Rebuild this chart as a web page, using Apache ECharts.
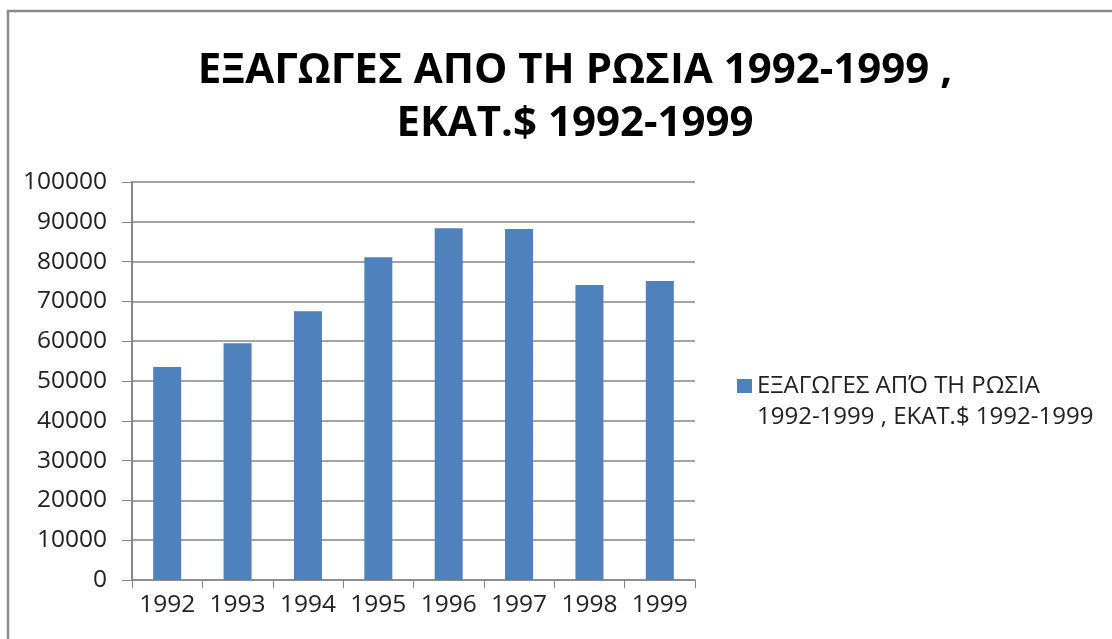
<!DOCTYPE html>
<html>
<head>
<meta charset="utf-8">
<script src="https://cdn.jsdelivr.net/npm/echarts@6/dist/echarts.min.js"></script>
<style>
  html, body { margin: 0; padding: 0; background: #fff; }
  #chart { width: 1112px; height: 639px; }
</style>
</head>
<body>
<div id="chart"></div>
<script>
const years = ['1992', '1993', '1994', '1995', '1996', '1997', '1998', '1999']
const exportsMln = [53500, 59500, 67500, 81100, 88400, 88200, 74100, 75100]
const seriesName = 'ΕΞΑΓΩΓΕΣ ΑΠΌ ΤΗ ΡΩΣΙΑ\n1992-1999 , ΕΚΑΤ.$ 1992-1999'
const titleText = 'ΕΞΑΓΩΓΕΣ ΑΠΟ ΤΗ ΡΩΣΙΑ 1992-1999 ,\nΕΚΑΤ.$ 1992-1999'

const chart = echarts.init(document.getElementById('chart'))

const axisGray = '#868686'

chart.setOption({
  backgroundColor: '#fff',
  animation: false,
  title: {
    text: titleText,
    left: 570,
    textAlign: 'center',
    top: 40,
    textStyle: {
      fontFamily: '"Open Sans", sans-serif',
      fontWeight: 'bold',
      fontSize: 42,
      lineHeight: 53,
      color: '#000'
    }
  },
  legend: {
    left: 732,
    top: 366,
    itemWidth: 15,
    itemHeight: 62,
    // square sits at the top so it lines up with the first text line
    icon: 'path://M0,8L15,8L15,22L0,22Z M0,0L0,62',
    textStyle: {
      fontFamily: '"Open Sans", sans-serif',
      fontSize: 24,
      lineHeight: 31,
      color: '#222'
    }
  },
  grid: {
    left: 132,
    right: 417,
    top: 182,
    bottom: 59
  },
  xAxis: {
    type: 'category',
    data: years,
    axisLine: { lineStyle: { color: axisGray, width: 1.5 } },
    axisTick: { show: true, length: 8, lineStyle: { color: axisGray } },
    axisLabel: {
      interval: 0,
      margin: 13,
      fontFamily: '"Open Sans", sans-serif',
      fontSize: 24.5,
      color: '#222'
    }
  },
  yAxis: {
    type: 'value',
    min: 0,
    max: 100000,
    interval: 10000,
    axisLine: { show: true, lineStyle: { color: axisGray, width: 2 } },
    axisTick: { show: true, length: 10, lineStyle: { color: axisGray } },
    splitLine: { lineStyle: { color: axisGray, width: 1.5 } },
    axisLabel: {
      margin: 25,
      formatter: v => String(v),
      fontFamily: '"Open Sans", sans-serif',
      fontSize: 24.5,
      color: '#222'
    }
  },
  series: [
    {
      name: seriesName,
      type: 'bar',
      data: exportsMln,
      barWidth: 28,
      itemStyle: { color: '#4F81BD' }
    }
  ],
  graphic: [
    {
      type: 'rect',
      silent: true,
      shape: { x: 8, y: 11, width: 1200, height: 700 },
      style: { fill: 'none', stroke: '#8a8a8a', lineWidth: 2.5 }
    }
  ]
})
</script>
</body>
</html>
